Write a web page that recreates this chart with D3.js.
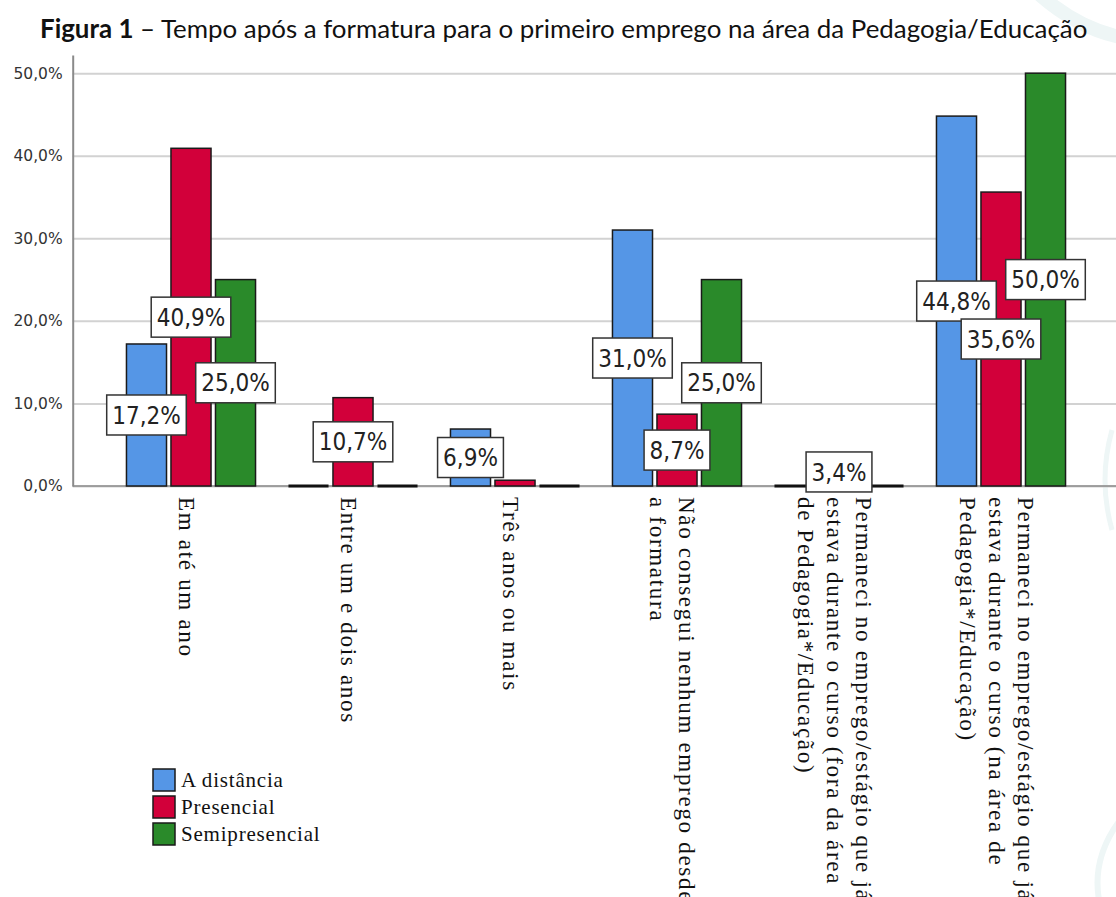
<!DOCTYPE html>
<html>
<head>
<meta charset="utf-8">
<script src="https://cdn.jsdelivr.net/npm/d3@7"></script>
<style>
  body { margin: 0; background: #fff; }
  svg { display: block; }
</style>
</head>
<body>
<svg id="chart" width="1116" height="897"></svg>
<script>
// categories (already split in lines like in the original picture)
var categoryLines = [
  ["Em até um ano"],
  ["Entre um e dois anos"],
  ["Três anos ou mais"],
  ["Não consegui nenhum emprego desde", "a formatura"],
  ["Permaneci no emprego/estágio que já", "estava durante o curso (fora da área", "de Pedagogia*/Educação)"],
  ["Permaneci no emprego/estágio que já", "estava durante o curso (na área de", "Pedagogia*/Educação)"]
];
var seriesNames = ["A distância", "Presencial", "Semipresencial"];
var seriesColors = ["#5596e6", "#d2003a", "#2a8a2a"];

// percentages per series
var aDistancia = [17.2, 0, 6.9, 31.0, 0, 44.8];
var presencial = [40.9, 10.7, 0.7, 8.7, 3.4, 35.6];
var semipresencial = [25.0, 0, 0, 25.0, 0, 50.0];

var yTicks = [0, 10, 20, 30, 40, 50];

var titleBold = "Figura 1";
var titleRest = " – Tempo após a formatura para o primeiro emprego na área da Pedagogia/Educação";

var allSeries = [aDistancia, presencial, semipresencial];
var categories = categoryLines.map(function(l){ return l.join(" "); });

var ptBR = d3.formatLocale({decimal: ",", thousands: ".", grouping: [3], currency: ["", ""]});
var pct = function(v){ return ptBR.format(".1f")(v) + "%"; };

var svg = d3.select("#chart");

// faint watermark arcs of the page
var wm = svg.append("g").attr("fill", "none").attr("stroke", "#eef6f6");
wm.append("path").attr("d", "M1040,-5 Q1080,30 1125,38").attr("stroke-width", 14);
wm.append("path").attr("d", "M1112,430 Q1098,480 1112,530").attr("stroke-width", 5);
wm.append("path").attr("d", "M1120,820 Q1090,860 1100,905").attr("stroke-width", 6);

// title
var title = svg.append("text")
  .attr("x", 40)
  .attr("y", 38)
  .attr("font-family", "Lato, 'Open Sans', sans-serif")
  .attr("font-size", 22)
  .attr("fill", "#111");
title.append("tspan").attr("font-weight", "bold").text(titleBold);
title.append("tspan").text(titleRest);
// fit title to the width it has in the original
var tw = title.node().getComputedTextLength();
title.attr("font-size", 22 * 1048 / tw);

var left = 72.7, right = 1116;

// scales
var y = d3.scaleLinear().domain([0, 52.2]).range([486, 55]);

var x0 = d3.scaleBand()
  .domain(categories)
  .range([110, 1082])
  .padding(0);

var x1 = d3.scaleBand()
  .domain(seriesNames)
  .range([0, x0.bandwidth()])
  .paddingInner(0.1)
  .paddingOuter(0.37);

// grid lines
svg.append("g")
  .attr("transform", "translate(" + left + ",0)")
  .call(d3.axisLeft(y).tickValues(yTicks).tickSize(-(right - left)).tickFormat(""))
  .call(function(g){
    g.select(".domain").remove();
    g.selectAll(".tick line").attr("stroke", "#d2d2d2").attr("stroke-width", 2);
  });

// y axis
svg.append("g")
  .attr("transform", "translate(" + left + ",0)")
  .call(d3.axisLeft(y).tickValues(yTicks).tickSize(0).tickSizeOuter(0).tickPadding(10).tickFormat(pct))
  .call(function(g){
    g.select(".domain").attr("stroke", "#8a8a8a").attr("stroke-width", 2);
    g.selectAll(".tick text")
      .attr("font-family", "'DejaVu Sans', sans-serif")
      .attr("font-size", 15.5)
      .attr("fill", "#333");
  });

// x axis baseline
svg.append("line")
  .attr("x1", left).attr("x2", right)
  .attr("y1", y(0)).attr("y2", y(0))
  .attr("stroke", "#8a8a8a").attr("stroke-width", 1.5);

// bars
var groups = svg.append("g").selectAll("g")
  .data(categories)
  .enter().append("g")
  .attr("transform", function(d){ return "translate(" + x0(d) + ",0)"; });

groups.selectAll("rect")
  .data(function(d, i){
    return seriesNames.map(function(s, j){ return {s: s, v: allSeries[j][i], c: seriesColors[j]}; });
  })
  .enter().append("rect")
  .attr("x", function(d){ return x1(d.s); })
  .attr("y", function(d){ return d.v == 0 ? y(0) - 1.5 : y(d.v); })
  .attr("width", x1.bandwidth())
  .attr("height", function(d){ return d.v == 0 ? 3 : y(0) - y(d.v); })
  .attr("fill", function(d){ return d.v == 0 ? "#111" : d.c; })
  .attr("stroke", function(d){ return d.v == 0 ? "none" : "#1a1a1a"; })
  .attr("stroke-width", 1.5);

// value labels in boxes, centered on the middle of each bar
groups.each(function(cat, i){
  var g = d3.select(this);
  seriesNames.forEach(function(s, j){
    var v = allSeries[j][i];
    if (v < 1) return;
    var cx = x1(s) + x1.bandwidth() / 2, cy = y(v / 2);
    var lg = g.append("g");
    var box = lg.append("rect");
    var t = lg.append("text")
      .attr("x", cx).attr("y", cy)
      .attr("dy", "0.36em")
      .attr("text-anchor", "middle")
      .attr("font-family", "'DejaVu Sans Condensed', 'DejaVu Sans', sans-serif")
      .attr("font-stretch", "condensed")
      .attr("font-size", 24)
      .attr("fill", "#222")
      .text(pct(v));
    var w = t.node().getComputedTextLength() + 11;
    box.attr("x", cx - w / 2).attr("y", cy - 20)
      .attr("width", w).attr("height", 40)
      .attr("fill", "#fff")
      .attr("stroke", "#333").attr("stroke-width", 1.5);
  });
});

// category labels, rotated, first line on the right
var lineH = 29;
svg.append("g").selectAll("text")
  .data(categoryLines)
  .enter().append("text")
  .attr("transform", function(d, i){
    return "translate(" + (x0(categories[i]) + x0.bandwidth() / 2 - 4) + ",497) rotate(90)";
  })
  .attr("font-family", "'Liberation Serif', 'Times New Roman', serif")
  .attr("font-size", 23)
  .attr("letter-spacing", 1.7)
  .attr("fill", "#111")
  .each(function(lines){
    var t = d3.select(this);
    lines.forEach(function(l, k){
      t.append("tspan")
        .attr("x", 0)
        .attr("y", (k - (lines.length - 1) / 2) * lineH)
        .attr("dy", "0.35em")
        .text(l);
    });
  });

// legend
var legend = svg.append("g").attr("transform", "translate(153,769)");
seriesNames.forEach(function(s, j){
  legend.append("rect")
    .attr("x", 0).attr("y", j * 27)
    .attr("width", 22).attr("height", 22)
    .attr("fill", seriesColors[j])
    .attr("stroke", "#1a1a1a").attr("stroke-width", 1.5);
  legend.append("text")
    .attr("x", 28).attr("y", j * 27 + 11)
    .attr("dy", "0.35em")
    .attr("font-family", "'Liberation Serif', 'Times New Roman', serif")
    .attr("font-size", 21)
    .attr("letter-spacing", 0.8)
    .attr("fill", "#111")
    .text(s);
});
</script>
</body>
</html>
